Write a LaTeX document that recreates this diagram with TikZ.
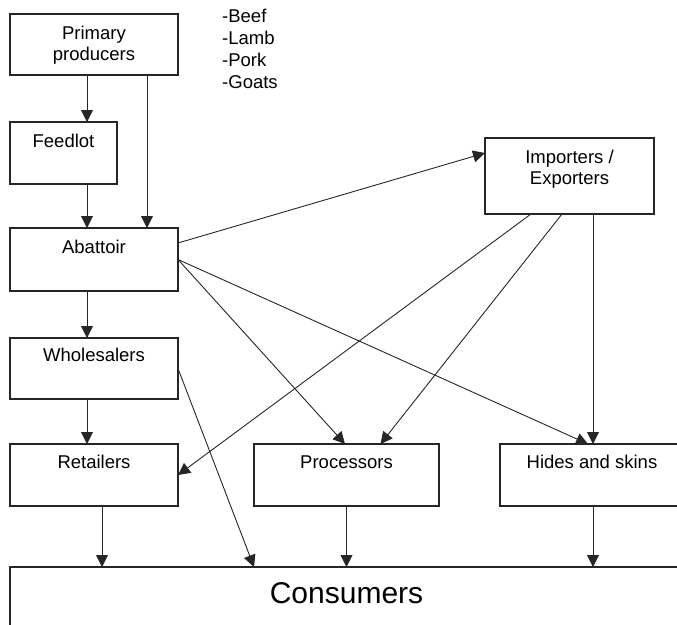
\documentclass[tikz,border=0pt]{standalone}
\usepackage{fontspec}
\setmainfont{Liberation Sans}
\usetikzlibrary{arrows.meta}
\begin{document}
\begin{tikzpicture}[x=1pt,y=-1pt,
  box/.style={draw=black!85, line width=1.2pt, inner sep=0pt, outer sep=0pt, anchor=north west},
  lbl/.style={inner sep=0pt, anchor=base, font=\fontsize{18.5}{21}\selectfont, align=center},
  arr/.style={draw=black!85, line width=0.9pt, -{Triangle[length=12pt,width=12pt]}},
]
\useasboundingbox (0,0) rectangle (677,624);
\clip (0,0) rectangle (677,624);

% boxes of the supply chain
\node[box, minimum width=168pt, minimum height=61pt]  (pp)    at (10,14)  {};
\node[box, minimum width=107pt, minimum height=62pt]  (feed)  at (10,122) {};
\node[box, minimum width=168pt, minimum height=63pt]  (abat)  at (10,228) {};
\node[box, minimum width=168pt, minimum height=61pt]  (whole) at (10,338) {};
\node[box, minimum width=168pt, minimum height=62pt]  (ret)   at (10,444) {};
\node[box, minimum width=185pt, minimum height=62pt]  (proc)  at (254,444) {};
\node[box, minimum width=200pt, minimum height=62pt]  (hides) at (500,444) {};
\node[box, minimum width=169pt, minimum height=76pt]  (imp)   at (485,138) {};
\node[box, minimum width=700pt, minimum height=100pt] (cons)  at (10,567) {};

% box captions (multi-line ones are placed by their last baseline)
\node[lbl] (pp-t)    at ([yshift=-46pt]pp.north)    {Primary\\producers};
\node[lbl] (feed-t)  at ([yshift=-25pt]feed.north)  {Feedlot};
\node[lbl] (abat-t)  at ([yshift=-25pt]abat.north)  {Abattoir};
\node[lbl] (whole-t) at ([yshift=-23pt]whole.north) {Wholesalers};
\node[lbl] (ret-t)   at ([yshift=-24pt]ret.north)   {Retailers};
\node[lbl] (proc-t)  at ([yshift=-24pt]proc.north)  {Processors};
\node[lbl] (hides-t) at ([xshift=92pt,yshift=-24pt]hides.north west) {Hides and skins};
\node[lbl] (imp-t)   at ([yshift=-46pt]imp.north)   {Importers /\\Exporters};
\node[inner sep=0pt, anchor=base, font=\fontsize{30}{34}\selectfont] (cons-t)
  at ([yshift=-36pt]cons.north west -| proc.north) {Consumers};

% livestock list
\node[inner sep=0pt, anchor=base west, align=left, font=\fontsize{18.5}{21.7}\selectfont] (kinds)
  at (222,88) {-Beef\\-Lamb\\-Pork\\-Goats};

% flows
\coordinate (lane) at (87,0);
\coordinate (bypass) at (147,0);
\draw[arr] (pp.south -| lane) -- (feed.north -| lane);
\draw[arr] (pp.south -| bypass) -- (abat.north -| bypass);
\draw[arr] (feed.south -| lane) -- (abat.north -| lane);
\draw[arr] (abat.south -| lane) -- (whole.north -| lane);
\draw[arr] (whole.south -| lane) -- (ret.north -| lane);
\draw[arr] ([yshift=-15pt]abat.north east) -- ([yshift=-15pt]imp.north west);
\draw[arr] (abat.east) -- ([xshift=-1.5pt]proc.north);
\draw[arr] (abat.east) -- ([xshift=88pt]hides.north west);
\draw[arr] ([xshift=46pt]imp.south west) -- (ret.east);
\draw[arr] ([xshift=77pt]imp.south west) -- ([xshift=34pt]proc.north);
\draw[arr] ([xshift=108pt]imp.south west) -- ([xshift=93pt]hides.north west);
\draw[arr] (whole.east) -- ([xshift=244pt]cons.north west);
\draw[arr] ([xshift=92pt]ret.south west) -- ([xshift=92pt]cons.north west);
\draw[arr] (proc.south) -- (proc.south |- cons.north);
\draw[arr] ([xshift=93pt]hides.south west) -- ([xshift=93pt]hides.south west |- cons.north);
\end{tikzpicture}
\end{document}
